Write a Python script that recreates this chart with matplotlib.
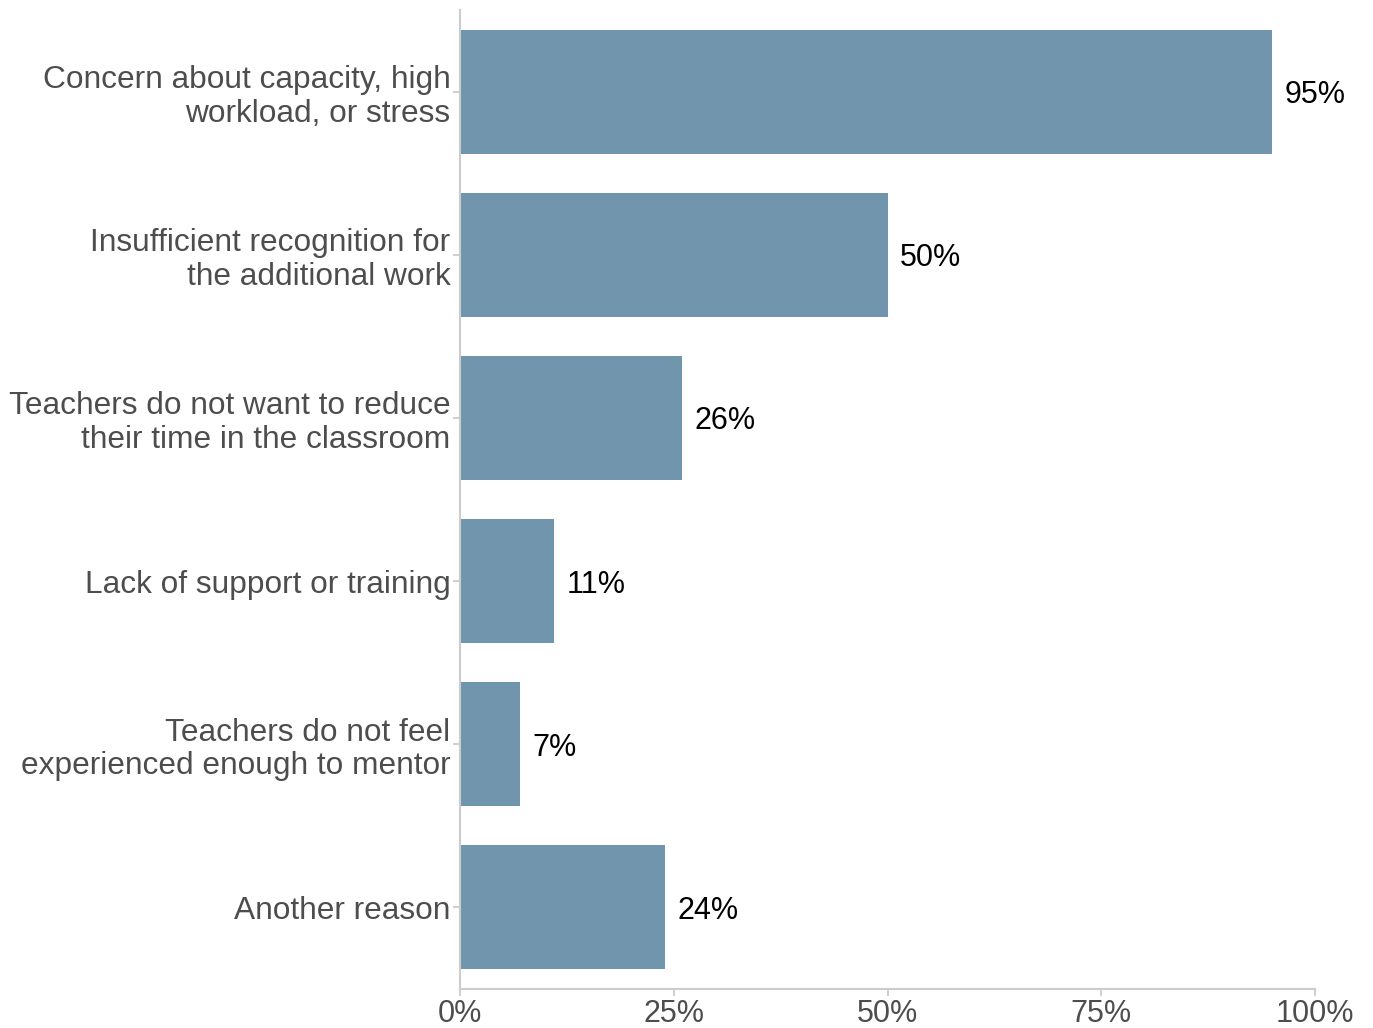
import matplotlib
matplotlib.use("Agg")
import matplotlib.pyplot as plt
from matplotlib.ticker import FuncFormatter

plt.rcParams["font.family"] = ["Liberation Sans", "DejaVu Sans"]

reasons = [
    "Concern about capacity, high\nworkload, or stress",
    "Insufficient recognition for\nthe additional work",
    "Teachers do not want to reduce\ntheir time in the classroom",
    "Lack of support or training",
    "Teachers do not feel\nexperienced enough to mentor",
    "Another reason",
]
shares = [95, 50, 26, 11, 7, 24]
x_ticks = [0, 25, 50, 75, 100]

bar_color = "#7195ad"
axis_color = "#cccccc"
label_color = "#4d4d4d"

fig = plt.figure(figsize=(13.73, 10.28), dpi=100)
ax = fig.add_axes([460 / 1373, 1 - 989 / 1028, (1315 - 460) / 1373, (989 - 10) / 1028])

pos = list(range(len(reasons)))
ax.barh(pos, shares, height=0.76, color=bar_color, edgecolor="none")
for p, v in zip(pos, shares):
    ax.annotate(f"{v}%", (v, p), xytext=(9, -2.5), textcoords="offset points",
                va="center", ha="left", fontsize=22, color="black")

ax.set_xlim(0, 100)
ax.set_ylim(len(reasons) - 0.5, -0.5)
ax.set_yticks(pos)
ax.set_yticklabels(reasons, fontsize=22.8, color=label_color, linespacing=1.15)
ax.set_xticks(x_ticks)
ax.xaxis.set_major_formatter(FuncFormatter(lambda v, _: f"{v:.0f}%"))
ax.tick_params(axis="x", labelsize=22, labelcolor=label_color, color=axis_color,
               length=5, width=1.3, pad=2)
ax.tick_params(axis="y", color=axis_color, length=5, width=1.3, pad=2)

for side in ("top", "right"):
    ax.spines[side].set_visible(False)
for side in ("left", "bottom"):
    ax.spines[side].set_color(axis_color)
    ax.spines[side].set_linewidth(1.5)

fig.savefig("out.png", dpi=100)
